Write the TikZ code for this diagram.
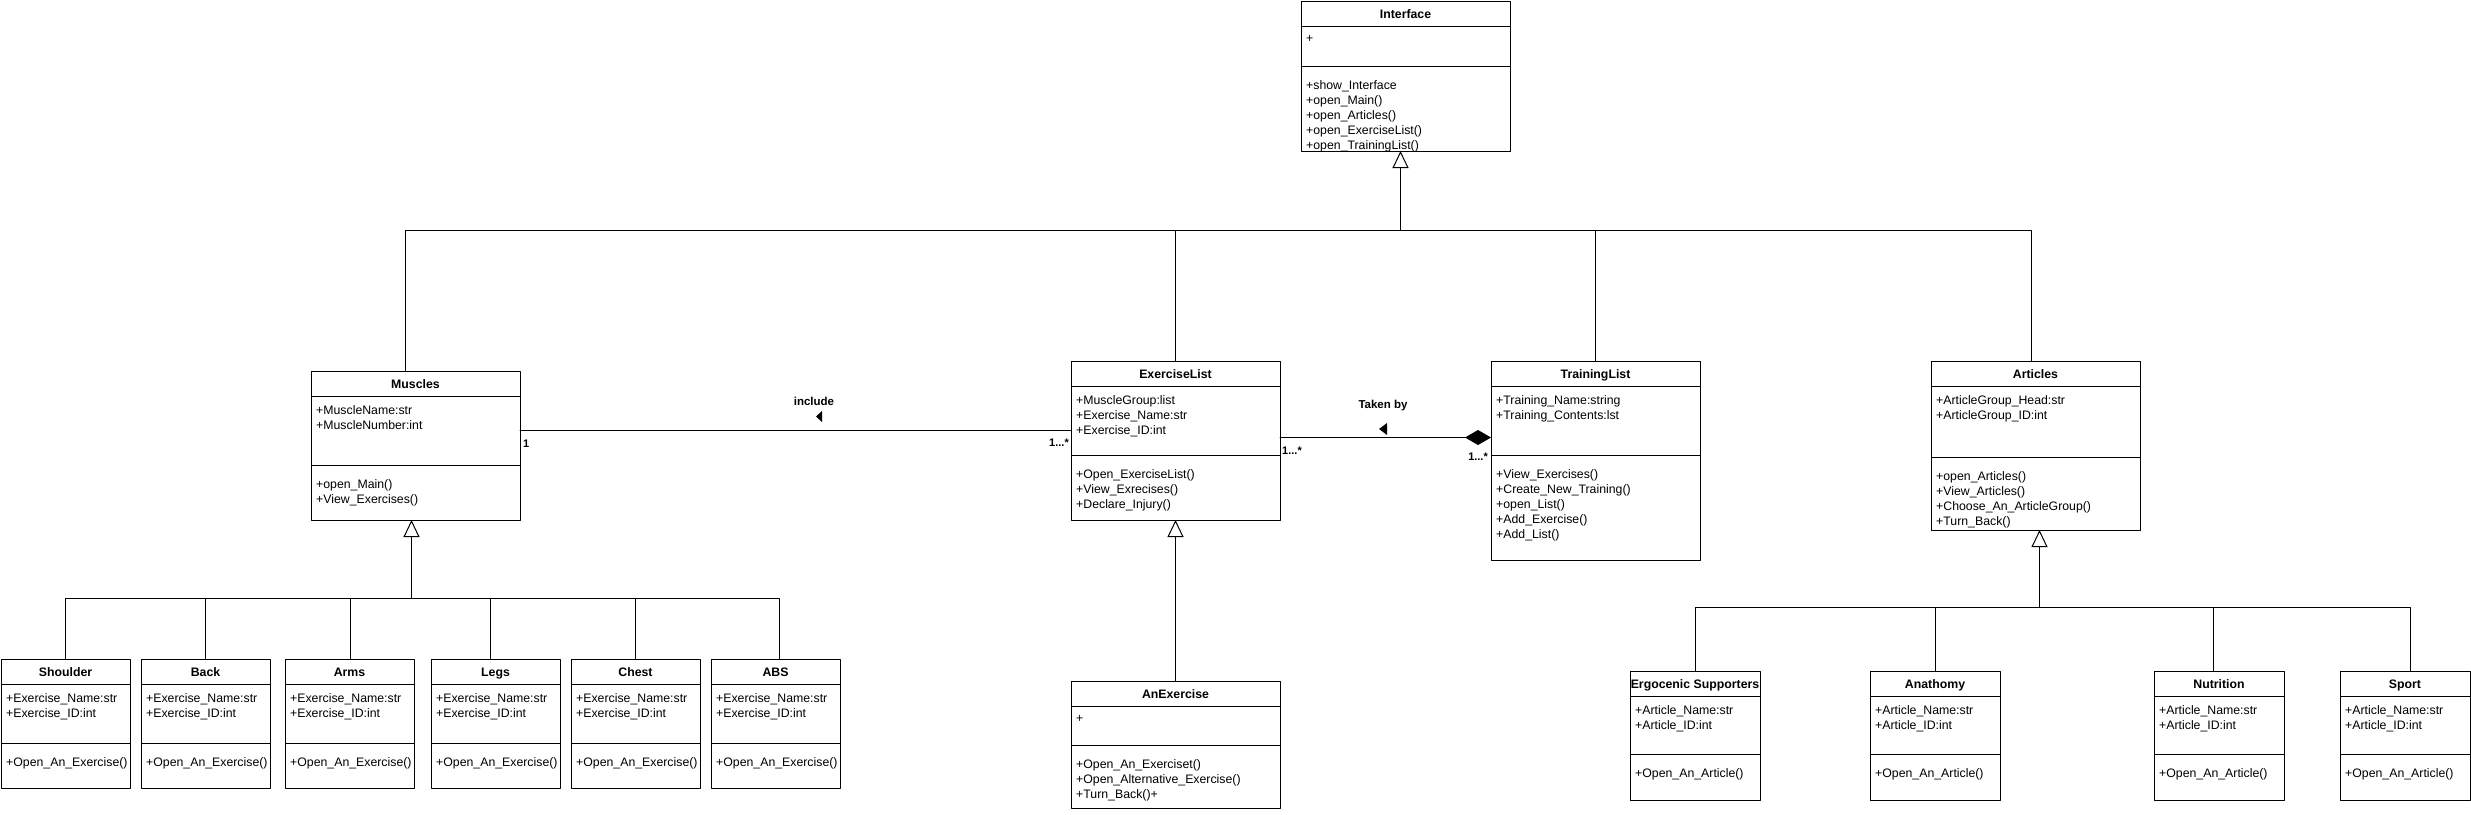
\documentclass[tikz,border=0pt]{standalone}
\usepackage{fontspec}
\setmainfont{Liberation Sans}
\usetikzlibrary{arrows.meta, positioning, calc}

\begin{document}
\begin{tikzpicture}[x=1pt, y=-1pt, line cap=round, line join=round]

% --------- shared styles ----------
\tikzset{
  cls/.style={draw, line width=1pt, fill=white, anchor=north west, inner sep=0pt, outer sep=0pt},
  ttl/.style={font=\fontsize{12.3}{15}\selectfont\bfseries, anchor=base, inner sep=0pt},
  mem/.style={font=\fontsize{12.3}{15}\selectfont, anchor=north west, align=left, inner sep=0pt},
  divider/.style={line width=1pt, line cap=butt},
  lnk/.style={line width=1pt},
  gen/.style={lnk, -{Triangle[open, length=17pt, width=16pt]}},
  comp/.style={lnk, -{Diamond[length=26pt, width=15pt]}},
  lbl/.style={font=\fontsize{11.5}{14}\selectfont\bfseries, inner sep=0pt},
  mult/.style={font=\fontsize{11}{13}\selectfont\bfseries, inner sep=0pt},
  dirmark/.style={fill=black}
}
% class box: name, corner, width, height, divider, title, fields, methods
\def\umlclass#1#2#3#4#5#6#7#8{%
  \node[cls, minimum width=#3pt, minimum height=#4pt] (#1) at (#2) {};
  \node[ttl] (#1-title) at ([yshift=-17pt]#1.north) {#6};
  \draw[divider] ([yshift=-25pt]#1.north west) -- ([yshift=-25pt]#1.north east);
  \draw[divider] ([yshift=-#5pt]#1.north west) -- ([yshift=-#5pt]#1.north east);
  \node[mem] (#1-attr) at ([xshift=5pt, yshift=-34pt]#1.north west) {#7};
  \node[mem] (#1-ops) at ([xshift=5pt, yshift=-#5pt-14pt]#1.north west) {#8};
}

\fill[white] (0,0) rectangle (2471,814);
\useasboundingbox (0,0) rectangle (2471,814);

% ===================== top level =====================
\umlclass{iface}{1301,1}{209}{150}{65}{Interface}{+}
  {+show\_Interface\\+open\_Main()\\+open\_Articles()\\+open\_ExerciseList()\\+open\_TrainingList()}
\umlclass{mus}{311,371}{209}{149}{94}{Muscles}
  {+MuscleName:str\\+MuscleNumber:int}
  {+open\_Main()\\+View\_Exercises()}
\umlclass{exl}{1071,361}{209}{159}{94}{ExerciseList}
  {+MuscleGroup:list\\+Exercise\_Name:str\\+Exercise\_ID:int}
  {+Open\_ExerciseList()\\+View\_Exrecises()\\+Declare\_Injury()}
\umlclass{trl}{1491,361}{209}{199}{94}{TrainingList}
  {+Training\_Name:string\\+Training\_Contents:lst}
  {+View\_Exercises()\\+Create\_New\_Training()\\+open\_List()\\+Add\_Exercise()\\+Add\_List()}
\umlclass{art}{1931,361}{209}{169}{96}{Articles}
  {+ArticleGroup\_Head:str\\+ArticleGroup\_ID:int}
  {+open\_Articles()\\+View\_Articles()\\+Choose\_An\_ArticleGroup()\\+Turn\_Back()}
\umlclass{anex}{1071,681}{209}{127}{64}{AnExercise}{+}
  {+Open\_An\_Exerciset()\\+Open\_Alternative\_Exercise()\\+Turn\_Back()+}

% ===================== muscle groups =====================
\foreach \name/\x/\ttl in {shoulder/1/Shoulder, back/141/Back, arms/285/Arms,
                           legs/431/Legs, chest/571/Chest, abs/711/ABS}
  \umlclass{\name}{\x,659}{129}{129}{84}{\ttl}
    {+Exercise\_Name:str\\+Exercise\_ID:int}{+Open\_An\_Exercise()};

% ===================== article groups =====================
\foreach \name/\x/\ttl in {ergo/1630/Ergocenic Supporters, anat/1870/Anathomy,
                           nutr/2154/Nutrition, sport/2340/Sport}
  \umlclass{\name}{\x,671}{130}{129}{83}{\ttl}
    {+Article\_Name:str\\+Article\_ID:int}{+Open\_An\_Article()};

% --------- generalisations ----------
\coordinate (topbus) at ($(iface.south)+(-5,79)$);
\draw[gen] (topbus) -- ([xshift=-5pt]iface.south);
\foreach \sub/\dx in {mus/-10, exl/0, trl/0, art/-4}
  \draw[lnk] ([xshift=\dx pt]\sub.north) |- (topbus);

\coordinate (musbus) at ($(mus.south)+(-4,78)$);
\draw[gen] (musbus) -- ([xshift=-4pt]mus.south);
\foreach \sub/\dx in {shoulder/0, back/0, arms/1, legs/-5, chest/0, abs/4}
  \draw[lnk] ([xshift=\dx pt]\sub.north) |- (musbus);

\draw[gen] (anex.north) -- (exl.south);

\coordinate (artbus) at ($(art.south)+(4,77)$);
\draw[gen] (artbus) -- ([xshift=4pt]art.south);
\foreach \sub/\dx in {ergo/0, anat/0, nutr/-6, sport/5}
  \draw[lnk] ([xshift=\dx pt]\sub.north) |- (artbus);

% --------- associations ----------
\coordinate (incA) at ($(mus.east)+(0,-15)$);
\draw[lnk] (incA) -- (incA -| exl.west);
\node[lbl] (incl) at ($(incA)+(294,-29)$) {include};
\fill[dirmark] ($(incl)+(2,15)$) -- ++(6,-5.5) -- ++(0,11) -- cycle;
\node[mult, anchor=north west] (m-mus) at ($(incA)+(3,9)$) {1};
\node[mult, anchor=north east] (m-exl-in) at ($(incA -| exl.west)+(-2,8)$) {1...*};

\coordinate (takA) at ($(exl.east)+(0,-3)$);
\draw[comp] (takA) -- (takA -| trl.west);
\node[lbl] (taken) at ($(takA)+(103,-31.5)$) {Taken by};
\fill[dirmark] ($(taken)+(-4,23)$) -- ++(8,-6) -- ++(0,12) -- cycle;
\node[mult, anchor=north west] (m-exl-out) at ($(takA)+(2,9)$) {1...*};
\node[mult, anchor=north east] (m-trl) at ($(takA -| trl.west)+(-3,15)$) {1...*};

\end{tikzpicture}
\end{document}
